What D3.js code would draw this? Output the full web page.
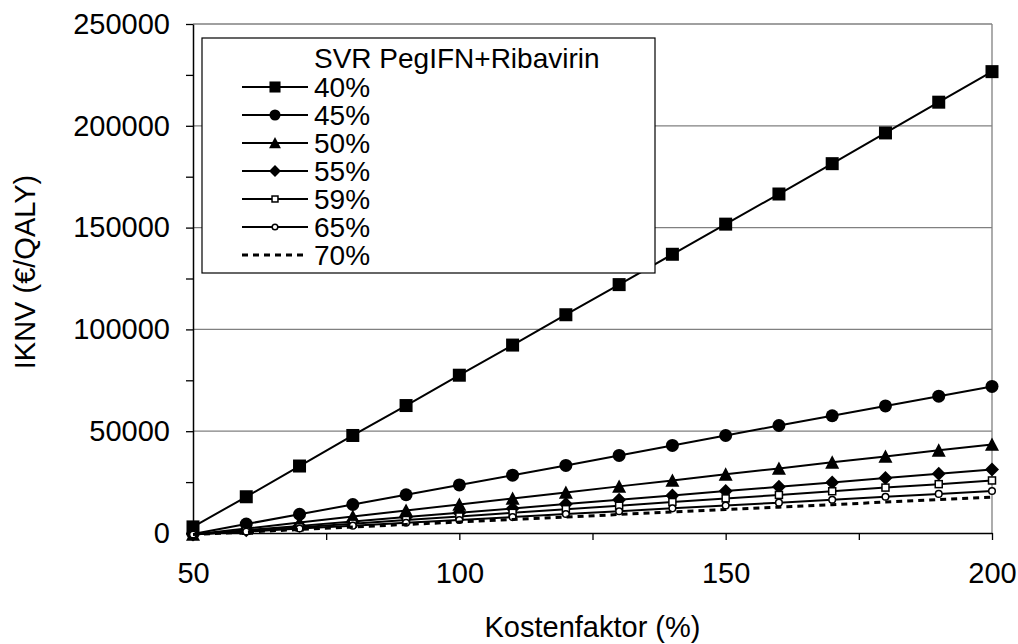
<!DOCTYPE html>
<html lang="de">
<head>
<meta charset="UTF-8">
<title>IKNV Kostenfaktor</title>
<script src="https://d3js.org/d3.v7.min.js"></script>
<style>
  body { margin: 0; background: #fff; }
  svg { display: block; font-family: "Liberation Sans", Arial, sans-serif; }
</style>
</head>
<body>
<svg width="1018" height="644"></svg>
<script>
// Kostenfaktor (%) on the x axis
const kostenfaktor = [50, 60, 70, 80, 90, 100, 110, 120, 130, 140, 150, 160, 170, 180, 190, 200];

// IKNV (€/QALY) per SVR level
const svr40 = [3000, 17800, 32900, 47900, 62600, 77500, 92300, 107200, 122000, 136900, 151700, 166500, 181400, 196500, 211600, 226600];
const svr45 = [-500, 4400, 9200, 14000, 18800, 23600, 28400, 33200, 38100, 43000, 47900, 52800, 57600, 62400, 67200, 72000];
const svr50 = [-700, 2200, 5200, 8100, 11100, 14000, 17000, 19900, 22900, 25800, 28800, 31700, 34700, 37600, 40600, 43500];
const svr55 = [-700, 1400, 3500, 5600, 7800, 9900, 12000, 14200, 16300, 18400, 20600, 22700, 24800, 27000, 29100, 31200];
const svr59 = [-700, 1100, 2800, 4600, 6400, 8100, 9900, 11700, 13400, 15200, 17000, 18700, 20500, 22300, 24000, 25800];
const svr65 = [-700, 700, 2200, 3600, 5000, 6400, 7800, 9300, 10700, 12100, 13500, 14900, 16300, 17800, 19200, 20600];
const svr70 = [-700, 500, 1700, 3000, 4200, 5400, 6600, 7800, 9100, 10300, 11500, 12700, 13900, 15200, 16400, 17600];

const seriesNames = ["40%", "45%", "50%", "55%", "59%", "65%", "70%"];
const seriesValues = [svr40, svr45, svr50, svr55, svr59, svr65, svr70];
const markers = ["square", "circle", "triangle", "diamond", "smallSquare", "smallCircle", "none"];

const legendTitle = "SVR PegIFN+Ribavirin";
const xTitle = "Kostenfaktor (%)";
const yTitle = "IKNV (€/QALY)";

const svg = d3.select("svg");
const margin = { top: 24, right: 26, bottom: 111, left: 193 };
const width = +svg.attr("width");
const height = +svg.attr("height");

const x = d3.scaleLinear().domain([50, 200]).range([margin.left, width - margin.right]);
const y = d3.scaleLinear().domain([0, 250000]).range([height - margin.bottom, margin.top]);

// gridlines
svg.append("g")
  .selectAll("line")
  .data(d3.range(50000, 250001, 50000))
  .join("line")
  .attr("x1", x(50)).attr("x2", x(200))
  .attr("y1", d => y(d)).attr("y2", d => y(d))
  .attr("stroke", "#808080").attr("stroke-width", 1.3);

// right border of plot area
svg.append("line")
  .attr("x1", x(200)).attr("x2", x(200))
  .attr("y1", y(0)).attr("y2", y(250000))
  .attr("stroke", "#808080").attr("stroke-width", 1.3);

// axes
const xAxis = svg.append("g")
  .attr("transform", `translate(0,${y(0)})`)
  .call(d3.axisBottom(x)
    .tickValues(d3.range(50, 201, 25))
    .tickFormat(d => d % 50 === 0 ? d : "")
    .tickSize(7).tickSizeOuter(0).tickPadding(22));

const yAxis = svg.append("g")
  .attr("transform", `translate(${x(50)},0)`)
  .call(d3.axisLeft(y)
    .tickValues(d3.range(0, 250001, 25000))
    .tickFormat(d => d % 50000 === 0 ? String(d) : "")
    .tickSize(7).tickSizeOuter(0).tickPadding(16));

[xAxis, yAxis].forEach(a => {
  a.selectAll("text").attr("font-size", 29).attr("fill", "#000")
    .attr("font-family", "Liberation Sans, Arial, sans-serif");
  a.select(".domain").attr("stroke", "#000").attr("stroke-width", 1.5);
  a.selectAll(".tick line").attr("stroke", "#000").attr("stroke-width", 1.3);
});

// axis titles
svg.append("text")
  .attr("x", (x(50) + x(200)) / 2).attr("y", 637)
  .attr("text-anchor", "middle").attr("font-size", 29)
  .text(xTitle);

svg.append("text")
  .attr("transform", "translate(35,272) rotate(-90)")
  .attr("text-anchor", "middle").attr("font-size", 29)
  .text(yTitle);

// marker drawing
function drawMarker(g, type, cx, cy, scale) {
  const s = scale || 1;
  if (type === "square") {
    g.append("rect").attr("x", cx - 6.5 * s).attr("y", cy - 6.5 * s)
      .attr("width", 13 * s).attr("height", 13 * s).attr("fill", "#000");
  } else if (type === "circle") {
    g.append("circle").attr("cx", cx).attr("cy", cy).attr("r", 6.5 * s).attr("fill", "#000");
  } else if (type === "triangle") {
    const h = 7 * s;
    g.append("path")
      .attr("d", `M${cx},${cy - h}L${cx + h},${cy + h * 0.9}L${cx - h},${cy + h * 0.9}Z`)
      .attr("fill", "#000");
  } else if (type === "diamond") {
    const h = 7 * s;
    g.append("path")
      .attr("d", `M${cx},${cy - h}L${cx + h},${cy}L${cx},${cy + h}L${cx - h},${cy}Z`)
      .attr("fill", "#000");
  } else if (type === "smallSquare") {
    g.append("rect").attr("x", cx - 3.5 * s).attr("y", cy - 3.5 * s)
      .attr("width", 7 * s).attr("height", 7 * s)
      .attr("fill", "#fff").attr("stroke", "#000").attr("stroke-width", 1.5);
  } else if (type === "smallCircle") {
    g.append("circle").attr("cx", cx).attr("cy", cy).attr("r", 3.3 * s)
      .attr("fill", "#fff").attr("stroke", "#000").attr("stroke-width", 1.5);
  }
}

const line = d3.line().x(d => x(d[0])).y(d => y(d[1]));

seriesValues.forEach((vals, i) => {
  const pts = kostenfaktor.map((k, j) => [k, vals[j]]);
  const g = svg.append("g");
  const path = g.append("path")
    .attr("d", line(pts))
    .attr("fill", "none").attr("stroke", "#000")
    .attr("stroke-width", markers[i] === "none" ? 3 : 2);
  if (markers[i] === "none") path.attr("stroke-dasharray", "6,5");
  pts.forEach(p => drawMarker(g, markers[i], x(p[0]), y(p[1])));
});

// legend
const legend = svg.append("g");
legend.append("rect")
  .attr("x", 202).attr("y", 38).attr("width", 453).attr("height", 235)
  .attr("fill", "#fff").attr("stroke", "#000").attr("stroke-width", 1.2);

legend.append("text")
  .attr("x", 314).attr("y", 68).attr("font-size", 28)
  .text(legendTitle);

seriesNames.forEach((name, i) => {
  const base = 97 + i * 28;
  const cy = base - 10;
  const ln = legend.append("line")
    .attr("x1", 242).attr("x2", 308).attr("y1", cy).attr("y2", cy)
    .attr("stroke", "#000").attr("stroke-width", markers[i] === "none" ? 3 : 2);
  if (markers[i] === "none") ln.attr("stroke-dasharray", "6,5");
  drawMarker(legend, markers[i], 275, cy, 0.85);
  legend.append("text")
    .attr("x", 314).attr("y", base).attr("font-size", 28)
    .text(name);
});
</script>
</body>
</html>
